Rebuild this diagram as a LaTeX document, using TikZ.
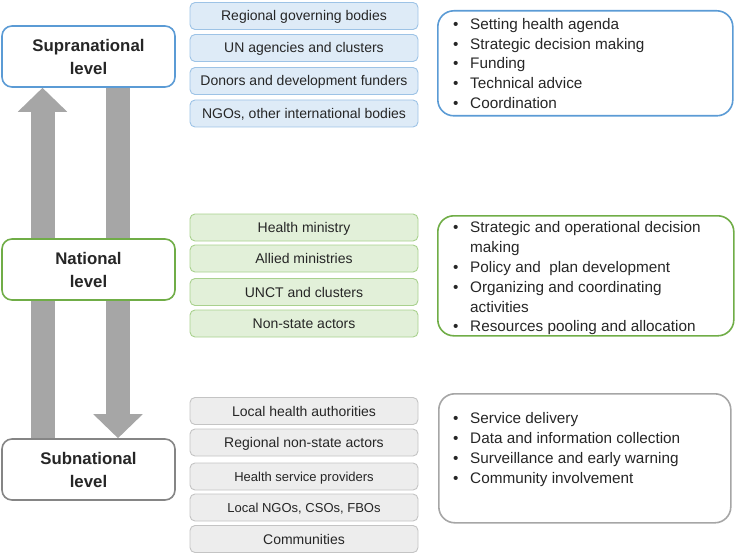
\documentclass[tikz,border=0pt]{standalone}
\usepackage{fontspec}
\setmainfont{Liberation Sans}
\usetikzlibrary{arrows.meta}
\definecolor{bluebd}{HTML}{5B9BD5}
\definecolor{bluefill}{HTML}{DEEBF7}
\definecolor{bluelt}{HTML}{9DC3E6}
\definecolor{greenbd}{HTML}{70AD47}
\definecolor{greenfill}{HTML}{E2F0D9}
\definecolor{greenlt}{HTML}{A9D18E}
\definecolor{graybd}{HTML}{A6A6A6}
\definecolor{grayfill}{HTML}{EDEDED}
\definecolor{graylt}{HTML}{C4C4C4}
\definecolor{arrgray}{HTML}{A6A6A6}
\definecolor{txt}{HTML}{262626}
\pgfdeclarelayer{bg}
\pgfsetlayers{bg,main}
\newcommand\bitem{\makebox[17pt][l]{\textbullet}}
\begin{document}
\begin{tikzpicture}[x=1pt,y=-1pt,
  levelbox/.style={draw=#1, line width=1.6pt, fill=white, rounded corners=10pt,
    minimum width=173pt, minimum height=61pt, align=center, inner sep=0pt,
    font=\fontsize{16.8}{23}\selectfont\bfseries, text=txt},
  actor/.style 2 args={draw=#1, fill=#2, line width=0.9pt, rounded corners=5pt,
    minimum width=228pt, minimum height=27pt, inner sep=0pt,
    text height=11.5pt, text depth=1.5pt,
    font=\fontsize{14}{16}\selectfont, text=txt},
  rolebox/.style={draw=#1, line width=1.6pt, rounded corners=16pt, anchor=north west, inner sep=0pt},
  listtxt/.style={align=left, inner sep=0pt, anchor=west,
    font=\fontsize{15.3}{19.8}\selectfont, text=txt},
  bigarrow/.style={draw=arrgray, line width=24pt, -{Triangle[width=48pt,length=24pt]}}
]
\useasboundingbox (0,0) rectangle (735,556);

% level boxes
\node[levelbox=bluebd] (supra) at (88.5,56.5) {Supranational\\level};
\node[levelbox=greenbd] (nat) at (88.5,269.5) {National\\level};
\node[levelbox=graybd!80!black] (sub) at (88.5,469.5) {Subnational\\level};

% arrows behind
\coordinate (ux) at (42.5,0);
\coordinate (dx) at (118,0);
\begin{pgfonlayer}{bg}
\draw[bigarrow] (sub.north -| ux) -- (supra.south -| ux);
\draw[bigarrow] (supra.south -| dx) -- (sub.north -| dx);
\end{pgfonlayer}

% supranational actors
\node[actor={bluelt}{bluefill}] (a1) at (304,16) {Regional governing bodies};
\node[actor={bluelt}{bluefill}] (a2) at (304,48) {UN agencies and clusters};
\node[actor={bluelt}{bluefill}] (a3) at (304,81) {Donors and development funders};
\node[actor={bluelt}{bluefill}] (a4) at (304,113.5) {NGOs, other international bodies};

% national actors
\node[actor={greenlt}{greenfill}] (b1) at (304,227.5) {Health ministry};
\node[actor={greenlt}{greenfill}] (b2) at (304,258.5) {Allied ministries};
\node[actor={greenlt}{greenfill}] (b3) at (304,292) {UNCT and clusters};
\node[actor={greenlt}{greenfill}] (b4) at (304,323.5) {Non-state actors};

% subnational actors
\node[actor={graylt}{grayfill}] (c1) at (304,411) {Local health authorities};
\node[actor={graylt}{grayfill}] (c2) at (304,442.5) {Regional non-state actors};
\node[actor={graylt}{grayfill}, font=\fontsize{13}{15}\selectfont] (c3) at (304,476.5) {Health service providers};
\node[actor={graylt}{grayfill}, font=\fontsize{13}{15}\selectfont] (c4) at (304,507.5) {Local NGOs, CSOs, FBOs};
\node[actor={graylt}{grayfill}] (c5) at (304,539) {Communities};

% role boxes
\node[rolebox=bluebd, minimum width=295pt, minimum height=105pt] (r1) at (437,10) {};
\node[rolebox=greenbd, minimum width=296pt, minimum height=120pt] (r2) at (437,215) {};
\node[rolebox=graybd, minimum width=292pt, minimum height=129pt] (r3) at (438,393) {};

\node[listtxt] (l1) at (453,63.5) {\bitem Setting health agenda\\
\bitem Strategic decision making\\
\bitem Funding\\
\bitem Technical advice\\
\bitem Coordination};

\node[listtxt] (l2) at (453,278.5) {\bitem Strategic and operational decision\\
\hspace*{17pt}making\\
\bitem Policy and\ \ plan development\\
\bitem Organizing and coordinating\\
\hspace*{17pt}activities\\
\bitem Resources pooling and allocation};

\node[listtxt] (l3) at (453,449.5) {\bitem Service delivery\\
\bitem Data and information collection\\
\bitem Surveillance and early warning\\
\bitem Community involvement};
\end{tikzpicture}
\end{document}
